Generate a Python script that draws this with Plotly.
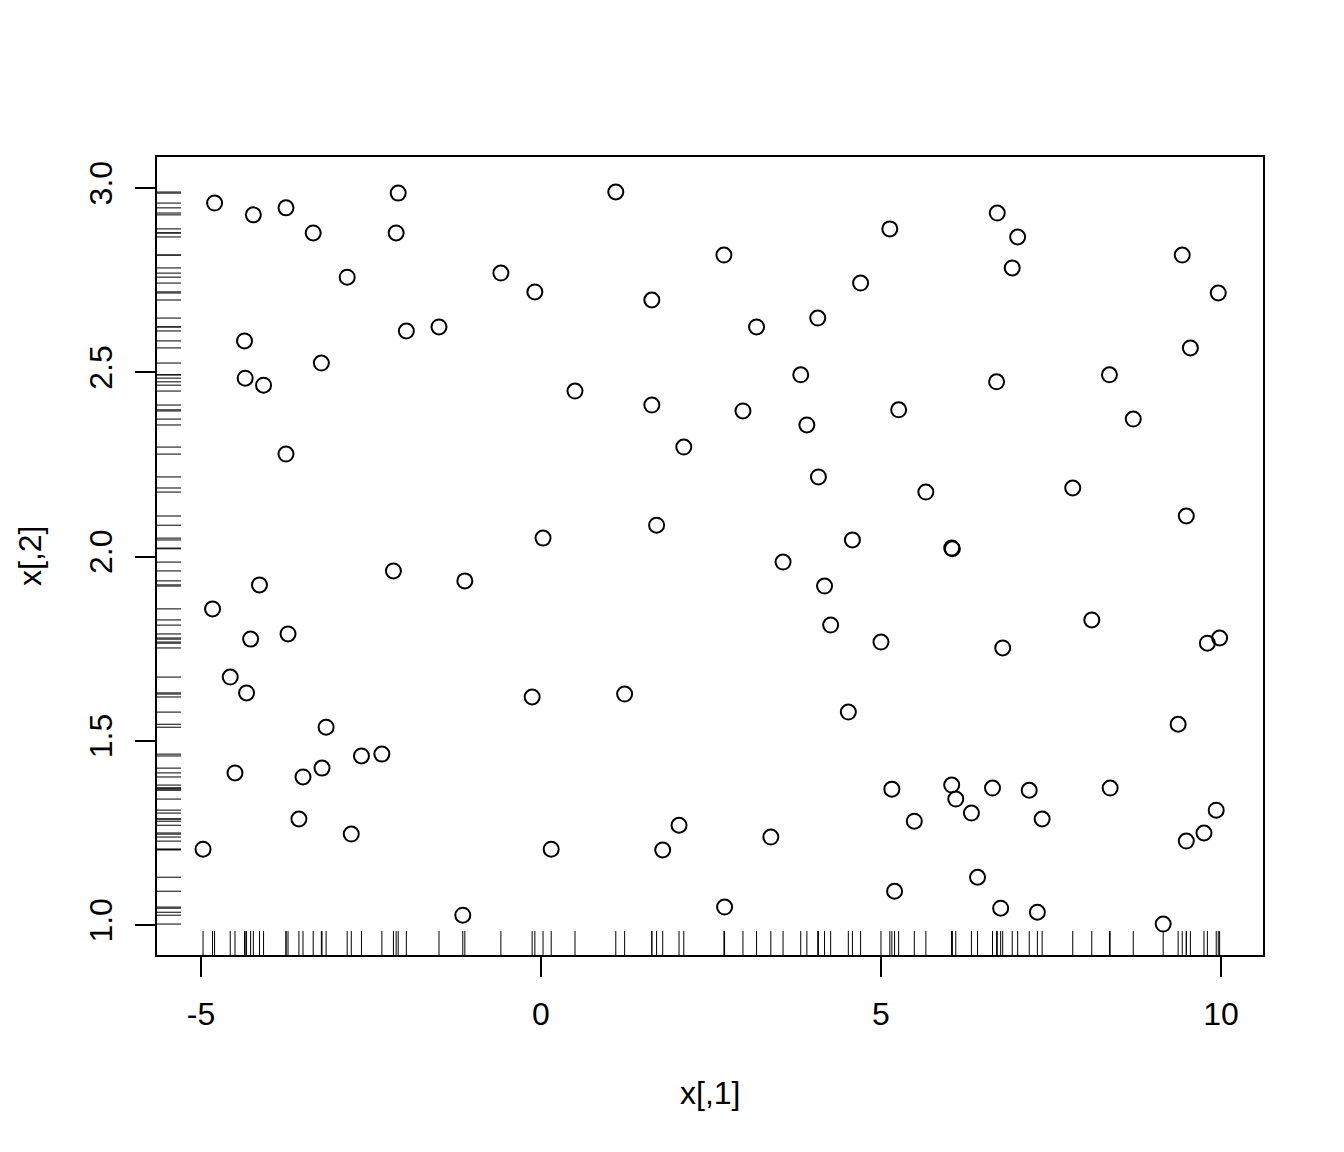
import plotly.graph_objects as go

x1 = [-4.80, -4.23, -3.75, -2.10, -3.35, -2.13, -2.85, -4.36, -4.35, -4.08,
      -3.23, -1.98, -1.50, -3.75, -0.59, -0.09, 1.10, 0.50, 1.63, 1.63,
      2.10, 2.69, 2.97, 3.17, 4.07, 3.82, 3.91, 4.08, 4.70, 5.13,
      5.26, 5.66, 6.71, 7.01, 6.93, 6.70, 9.43, 9.55, 9.96, 8.36,
      8.71, 7.82, 9.49, 1.70, 0.03, -2.17, -1.12, -4.14, -4.83, -4.27,
      -3.72, -4.57, -4.33, -0.13, 1.23, 3.56, 4.58, 6.04, 6.05, 4.17,
      4.26, 5.00, 4.52, 6.79, 8.10, 9.80, 9.98, 9.37, -3.16, -2.34,
      -2.64, -3.22, -3.50, -4.50, -3.56, -2.79, -4.97, 0.15, 1.79, 2.03,
      3.38, -1.15, 2.70, 5.16, 5.49, 5.20, 6.04, 6.10, 6.33, 6.64,
      6.42, 6.76, 7.18, 7.37, 7.30, 8.37, 9.49, 9.75, 9.93, 9.15]

x2 = [2.959, 2.927, 2.946, 2.986, 2.878, 2.878, 2.758, 2.585, 2.484, 2.465,
      2.525, 2.612, 2.623, 2.278, 2.769, 2.718, 2.989, 2.449, 2.696, 2.411,
      2.297, 2.818, 2.395, 2.623, 2.647, 2.493, 2.357, 2.216, 2.742, 2.889,
      2.398, 2.175, 2.932, 2.867, 2.783, 2.474, 2.818, 2.566, 2.715, 2.493,
      2.373, 2.186, 2.110, 2.085, 2.050, 1.961, 1.934, 1.923, 1.858, 1.776,
      1.790, 1.673, 1.630, 1.619, 1.627, 1.985, 2.045, 2.023, 2.021, 1.920,
      1.814, 1.768, 1.578, 1.752, 1.828, 1.765, 1.779, 1.545, 1.537, 1.464,
      1.459, 1.426, 1.402, 1.413, 1.288, 1.247, 1.206, 1.206, 1.204, 1.271,
      1.239, 1.027, 1.049, 1.369, 1.282, 1.092, 1.380, 1.342, 1.304, 1.372,
      1.130, 1.046, 1.366, 1.288, 1.035, 1.372, 1.228, 1.250, 1.312, 1.003]

x_ticks = [-5, 0, 5, 10]
y_ticks = [1.0, 1.5, 2.0, 2.5, 3.0]
y_tick_labels = ["1.0", "1.5", "2.0", "2.5", "3.0"]

FONT = "Liberation Sans, Arial, Helvetica, sans-serif"

fig = go.Figure()
fig.add_trace(go.Scatter(
    x=x1, y=x2, mode="markers",
    marker=dict(symbol="circle-open", size=15, color="black", line=dict(width=2, color="black")),
    showlegend=False, hoverinfo="skip"))

shapes = []
for v in x1:
    shapes.append(dict(type="line", xref="x", yref="y domain", x0=v, x1=v, y0=0, y1=0.03,
                       line=dict(color="black", width=1)))
for v in x2:
    shapes.append(dict(type="line", xref="x domain", yref="y", x0=0, x1=24/1106, y0=v, y1=v,
                       line=dict(color="black", width=1)))

fig.update_layout(
    width=1344, height=1152,
    margin=dict(l=149, r=89, t=149, b=205),
    paper_bgcolor="white", plot_bgcolor="white",
    font=dict(family=FONT, size=32, color="black"),
    shapes=shapes,
    annotations=[
        dict(text="x[,1]", xref="paper", yref="paper", x=0.5, y=-138/798,
             showarrow=False, xanchor="center", yanchor="middle", font=dict(size=32)),
        dict(text="x[,2]", xref="paper", yref="paper", x=-127/1106, y=0.5, textangle=-90,
             showarrow=False, xanchor="center", yanchor="middle", font=dict(size=32)),
    ],
)
fig.update_xaxes(range=[-5.647, 10.618], tickvals=x_ticks, ticktext=[str(t) for t in x_ticks],
                 ticks="outside", ticklen=20, tickwidth=2, tickcolor="black",
                 showline=True, linecolor="black", linewidth=2, mirror=True,
                 showgrid=False, zeroline=False, ticklabelstandoff=10)
fig.update_yaxes(range=[0.919, 3.084], tickvals=y_ticks, ticktext=y_tick_labels,
                 ticks="outside", ticklen=20, tickwidth=2, tickcolor="black", tickangle=-90,
                 showline=True, linecolor="black", linewidth=2, mirror=True,
                 showgrid=False, zeroline=False, ticklabelstandoff=10)

fig.write_html("out.html")
